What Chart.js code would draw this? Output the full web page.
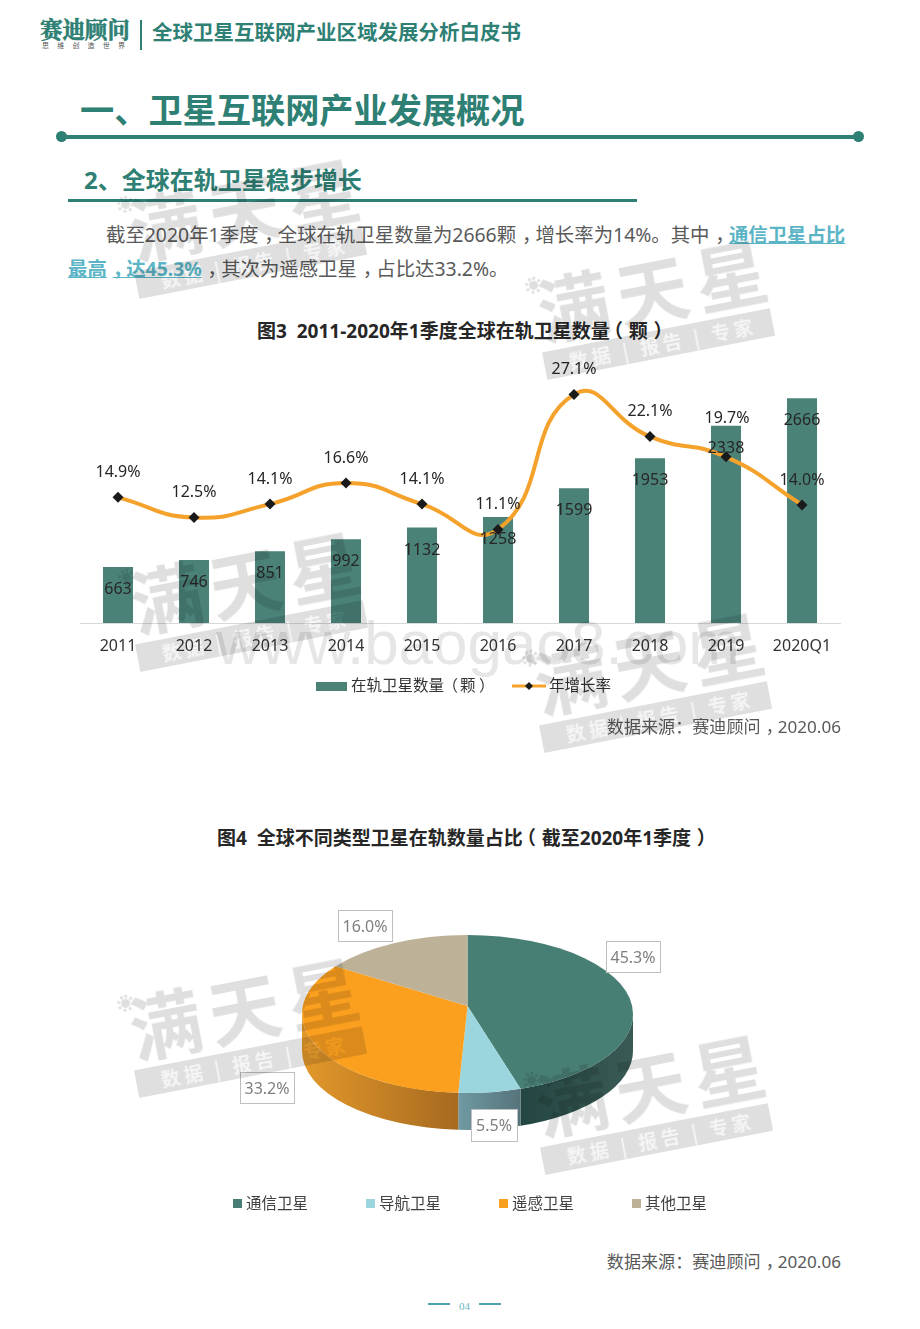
<!DOCTYPE html>
<html lang="zh">
<head>
<meta charset="utf-8">
<title>全球卫星互联网产业区域发展分析白皮书</title>
<script src="https://cdn.jsdelivr.net/npm/chart.js@4"></script>
<style>
  html, body { margin: 0; padding: 0; background: #fff; }
  body { width: 920px; height: 1329px; position: relative; overflow: hidden;
         font-family: "Noto Sans", "Noto Sans CJK SC", sans-serif; }
  .t { position: absolute; white-space: nowrap; line-height: 1; }
  .bar { position: absolute; background: #2e7f74; }
  canvas { position: absolute; }
  .teal { color: #2e7f74; font-weight: 700; }
  .para { font-size: 19.4px; color: #595959; }
  .para b { color: #5bb5c6; text-decoration: underline; font-weight: 700; }
  .figtitle { font-size: 19px; font-weight: 700; color: #262626; }
  .source { font-size: 17.1px; color: #595959; right: 79px; }
  /* full width punctuation sits in the middle of its cell in the original */
  .c { position: relative; left: .3em; }
  .l { position: relative; left: -.3em; }
  .wm { position: absolute; width: 250px; height: 130px; transform: rotate(-11deg);
        transform-origin: 0 0; mix-blend-mode: multiply; pointer-events: none; }
  .wm .big { position: absolute; left: 4px; top: 8px; font-size: 72px; font-weight: 700; line-height: 1;
             letter-spacing: 8px; color: #dfdfdf; white-space: nowrap; }
  .wm .band { position: absolute; left: 0; top: 84px; width: 232px; height: 28px; background: #dfdfdf;
              color: #f5f5f5; font-size: 19px; line-height: 28px; font-weight: 700; padding-left: 25px;
              box-sizing: border-box; letter-spacing: 4px; white-space: nowrap; font-family: "Noto Sans CJK SC"; }
  .wm .sun { position: absolute; left: 0; top: 12px; width: 9px; height: 9px; border-radius: 50%;
             background: #dfdfdf; outline: 3px dotted #dfdfdf; outline-offset: 1px; }
  .url { position: absolute; left: 216px; top: 612px; font: 62px "Liberation Sans", sans-serif; color: #e6e6e6;
         mix-blend-mode: multiply; white-space: nowrap; line-height: 1; }
</style>
</head>
<body>
  <!-- header -->
  <div class="t teal" style="left:40px;top:17px;font-size:22.5px;-webkit-text-stroke:.6px #2e7f74;font-family:'Noto Serif CJK SC','Noto Sans CJK SC';">赛迪顾问</div>
  <div class="t" style="left:42px;top:42px;font-size:7px;letter-spacing:8.2px;color:#555;">思维创造世界</div>
  <div class="bar" style="left:140px;top:20px;width:2px;height:30px;"></div>
  <div class="t teal" style="left:152px;top:22px;font-size:20.5px;">全球卫星互联网产业区域发展分析白皮书</div>

  <div class="t teal" style="left:80px;top:93px;font-size:34.2px;">一、卫星互联网产业发展概况</div>
  <div class="bar" style="left:61px;top:135px;width:797px;height:4px;"></div>
  <div class="bar" style="left:56px;top:131px;width:11px;height:11px;border-radius:50%;"></div>
  <div class="bar" style="left:853px;top:131px;width:11px;height:11px;border-radius:50%;"></div>

  <div class="t teal" style="left:84px;top:168px;font-size:24px;">2、全球在轨卫星稳步增长</div>
  <div class="bar" style="left:68px;top:199px;width:569px;height:3px;"></div>

  <div class="t para" style="left:106px;top:225px;">截至2020年1季度<span class="c">，</span>全球在轨卫星数量为2666颗<span class="c">，</span>增长率为14%。其中<span class="c">，</span><b>通信卫星占比</b></div>
  <div class="t para" style="left:68px;top:259px;"><b>最高<span class="c">，</span>达45.3%</b><span class="c">，</span>其次为遥感卫星<span class="c">，</span>占比达33.2%。</div>

  <div class="t figtitle" style="left:257px;top:322px;">图3&nbsp;&nbsp;2011-2020年1季度全球在轨卫星数量<span class="l">（</span>颗<span class="c">）</span></div>
  <canvas id="satChart" style="left:60px;top:350px;"></canvas>
  <div class="t source" style="top:718px;">数据来源：赛迪顾问<span class="c">，</span>2020.06</div>

  <div class="t figtitle" style="left:217px;top:829px;">图4&nbsp;&nbsp;全球不同类型卫星在轨数量占比<span class="l">（</span>截至2020年1季度<span class="c">）</span></div>
  <canvas id="typeChart" style="left:197px;top:814px;"></canvas>
  <div class="t source" style="top:1253px;">数据来源：赛迪顾问<span class="c">，</span>2020.06</div>

  <!-- page number -->
  <div class="bar" style="left:428px;top:1303px;width:22px;height:2px;background:#4fa3ad;"></div>
  <div class="t" style="left:459px;top:1300px;font:11px 'Liberation Serif',serif;color:#6fb6bf;">04</div>
  <div class="bar" style="left:479px;top:1303px;width:22px;height:2px;background:#4fa3ad;"></div>

  <div class="url">www.baogao8.com</div>
  <div id="marks"></div>

<script>
// chart 1
const years = ['2011', '2012', '2013', '2014', '2015', '2016', '2017', '2018', '2019', '2020Q1'];
const satCounts = [663, 746, 851, 992, 1132, 1258, 1599, 1953, 2338, 2666];
const growthRates = [14.9, 12.5, 14.1, 16.6, 14.1, 11.1, 27.1, 22.1, 19.7, 14.0];
const countLabel = '在轨卫星数量';
const countUnit = '颗';
const growthLabel = '年增长率';

// chart 2
const satTypes = ['通信卫星', '导航卫星', '遥感卫星', '其他卫星'];
const typeShares = [45.3, 5.5, 33.2, 16.0];

// colours and layout
const barColor = '#4a8278';
const lineColor = '#f5a22d';
const typeColors = ['#487f75', '#9bd5de', '#fb9f1e', '#bdb297'];
const sideGradients = [['#234642', '#3a5a55'], ['#6f9aa2', '#56737a'], ['#e3982a', '#a66a20'], null];
const growthLift = [26, 26, 26, 26, 26, 26, 26, 26, 39, 25];
const labelBoxes = [[409, 127, 54, 31], [274, 295, 46, 32], [43, 258, 54, 31], [141, 96, 54, 31]];
const legendXs = [36, 169, 302, 435];
const font = '"Noto Sans", "Noto Sans CJK SC", sans-serif';

// watermarks, top left of the rotated block
[[118, 189], [526, 270], [119, 562], [523, 643], [118, 988], [524, 1065]].forEach(p => {
  const el = document.createElement('div');
  el.className = 'wm';
  el.style.left = p[0] + 'px';
  el.style.top = p[1] + 'px';
  el.innerHTML = '<div class="big">满天星</div><div class="sun"></div><div class="band">数据 | 报告 | 专家</div>';
  document.getElementById('marks').appendChild(el);
});

const satLabels = {
  id: 'satLabels',
  afterDatasetsDraw(chart) {
    const ctx = chart.ctx;
    ctx.save();
    ctx.textAlign = 'center';
    ctx.textBaseline = 'middle';
    ctx.font = '16px ' + font;
    ctx.fillStyle = '#262626';
    chart.getDatasetMeta(0).data.forEach((el, i) => {
      ctx.fillText(satCounts[i], el.x, el.y + 22.5);
    });
    chart.getDatasetMeta(1).data.forEach((el, i) => {
      ctx.fillText(growthRates[i].toFixed(1) + '%', el.x + (i === 8 ? 1 : 0), el.y - growthLift[i] + 1);
    });

    // legend
    const y = 336;
    ctx.textAlign = 'left';
    ctx.fillStyle = barColor;
    ctx.fillRect(256, y - 4, 31, 9);
    ctx.fillStyle = '#333';
    ctx.font = '15.5px ' + font;
    ctx.fillText(countLabel, 291, y + 1);
    ctx.fillText('（', 382.5, y + 1);
    ctx.fillText(countUnit, 400, y + 1);
    ctx.fillText('）', 419, y + 1);
    ctx.fillText(growthLabel, 489, y + 1);
    ctx.strokeStyle = lineColor;
    ctx.lineWidth = 3;
    ctx.beginPath();
    ctx.moveTo(452, y);
    ctx.lineTo(486, y);
    ctx.stroke();
    ctx.fillStyle = '#1a1a1a';
    ctx.beginPath();
    ctx.moveTo(469, y - 4);
    ctx.lineTo(473, y);
    ctx.lineTo(469, y + 4);
    ctx.lineTo(465, y);
    ctx.closePath();
    ctx.fill();
    ctx.restore();
  }
};

const satCanvas = document.getElementById('satChart');
satCanvas.width = 800;
satCanvas.height = 370;
new Chart(satCanvas, {
  data: {
    labels: years,
    datasets: [
      { type: 'bar', label: countLabel, data: satCounts, backgroundColor: barColor, yAxisID: 'y',
        barPercentage: 0.395, categoryPercentage: 1, order: 2 },
      { type: 'line', label: growthLabel, data: growthRates, yAxisID: 'y1', borderColor: lineColor, borderWidth: 4,
        tension: 0.5, pointStyle: 'rectRot', pointRadius: 5.5, pointBackgroundColor: '#1a1a1a',
        pointBorderColor: '#1a1a1a', pointBorderWidth: 0, clip: false, order: 1 }
    ]
  },
  options: {
    responsive: false,
    animation: false,
    layout: { padding: { left: 20, right: 20, top: 20, bottom: 0 } },
    plugins: { legend: { display: false }, tooltip: { enabled: false } },
    scales: {
      x: {
        grid: { display: false },
        border: { color: '#d9d9d9', width: 1 },
        ticks: { color: '#333', font: { size: 16, family: font }, padding: 6, maxRotation: 0 },
        afterFit: scale => { scale.height = 97; }
      },
      y: { display: false, min: 0, max: 3000 },
      y1: { display: false, min: 0, max: 30 }
    }
  },
  plugins: [satLabels]
});

// the pie is seen in perspective: the rim is an ellipse and the slices meet above its middle
const pie3d = {
  id: 'pie3d',
  beforeDatasetDraw(chart) {
    const ctx = chart.ctx;
    const arcs = chart.getDatasetMeta(0).data;
    const cx = arcs[0].x, cy = arcs[0].y;
    const rx = arcs[0].outerRadius;
    const ry = rx * 0.477;
    const depth = 37;
    const apex = -8;
    const k = -0.101;
    const project = a => {
      const w = 1 + k * Math.sin(a);
      const x = Math.sqrt(1 - k * k) * Math.cos(a) / w;
      const y = (ry * Math.sin(a) + apex) / w / ry;
      let out = Math.atan2(y, x);
      while (out < a - Math.PI) out += 2 * Math.PI;
      return out;
    };
    ctx.save();
    arcs.forEach((arc, i) => {
      const from = Math.max(project(arc.startAngle), 0);
      const to = Math.min(project(arc.endAngle), Math.PI);
      if (!sideGradients[i] || to <= from) return;
      const x0 = cx + rx * Math.cos(from), x1 = cx + rx * Math.cos(to);
      const g = ctx.createLinearGradient(Math.min(x0, x1), 0, Math.max(x0, x1), 0);
      g.addColorStop(0, sideGradients[i][0]);
      g.addColorStop(1, sideGradients[i][1]);
      ctx.fillStyle = g;
      ctx.beginPath();
      ctx.ellipse(cx, cy, rx, ry, 0, from, to);
      ctx.ellipse(cx, cy + depth, rx, ry, 0, to, from, true);
      ctx.closePath();
      ctx.fill();
    });
    arcs.forEach((arc, i) => {
      ctx.fillStyle = typeColors[i];
      ctx.beginPath();
      ctx.moveTo(cx, cy + apex);
      ctx.ellipse(cx, cy, rx, ry, 0, project(arc.startAngle), project(arc.endAngle));
      ctx.closePath();
      ctx.fill();
    });
    ctx.restore();
    return false;
  },
  afterDatasetsDraw(chart) {
    const ctx = chart.ctx;
    ctx.save();
    ctx.textAlign = 'center';
    ctx.textBaseline = 'middle';
    ctx.font = '16px ' + font;
    typeShares.forEach((v, i) => {
      const b = labelBoxes[i];
      ctx.fillStyle = '#fff';
      ctx.strokeStyle = '#bfbfbf';
      ctx.lineWidth = 1;
      ctx.fillRect(b[0], b[1], b[2], b[3]);
      ctx.strokeRect(b[0] + 0.5, b[1] + 0.5, b[2], b[3]);
      ctx.fillStyle = '#7f7f7f';
      ctx.fillText(v.toFixed(1) + '%', b[0] + b[2] / 2, b[1] + b[3] / 2 + 1.5);
    });
    // legend
    ctx.textAlign = 'left';
    ctx.font = '15.5px ' + font;
    satTypes.forEach((name, i) => {
      ctx.fillStyle = typeColors[i];
      ctx.fillRect(legendXs[i], 385, 9, 9);
      ctx.fillStyle = '#404040';
      ctx.fillText(name, legendXs[i] + 13, 391);
    });
    ctx.restore();
  }
};

const typeCanvas = document.getElementById('typeChart');
typeCanvas.width = 541;
typeCanvas.height = 400;
new Chart(typeCanvas, {
  type: 'pie',
  data: {
    labels: satTypes,
    datasets: [{ data: typeShares, backgroundColor: typeColors, borderWidth: 0 }]
  },
  options: {
    responsive: false,
    animation: false,
    radius: 165.5,
    plugins: { legend: { display: false }, tooltip: { enabled: false } }
  },
  plugins: [pie3d]
});
</script>
</body>
</html>
